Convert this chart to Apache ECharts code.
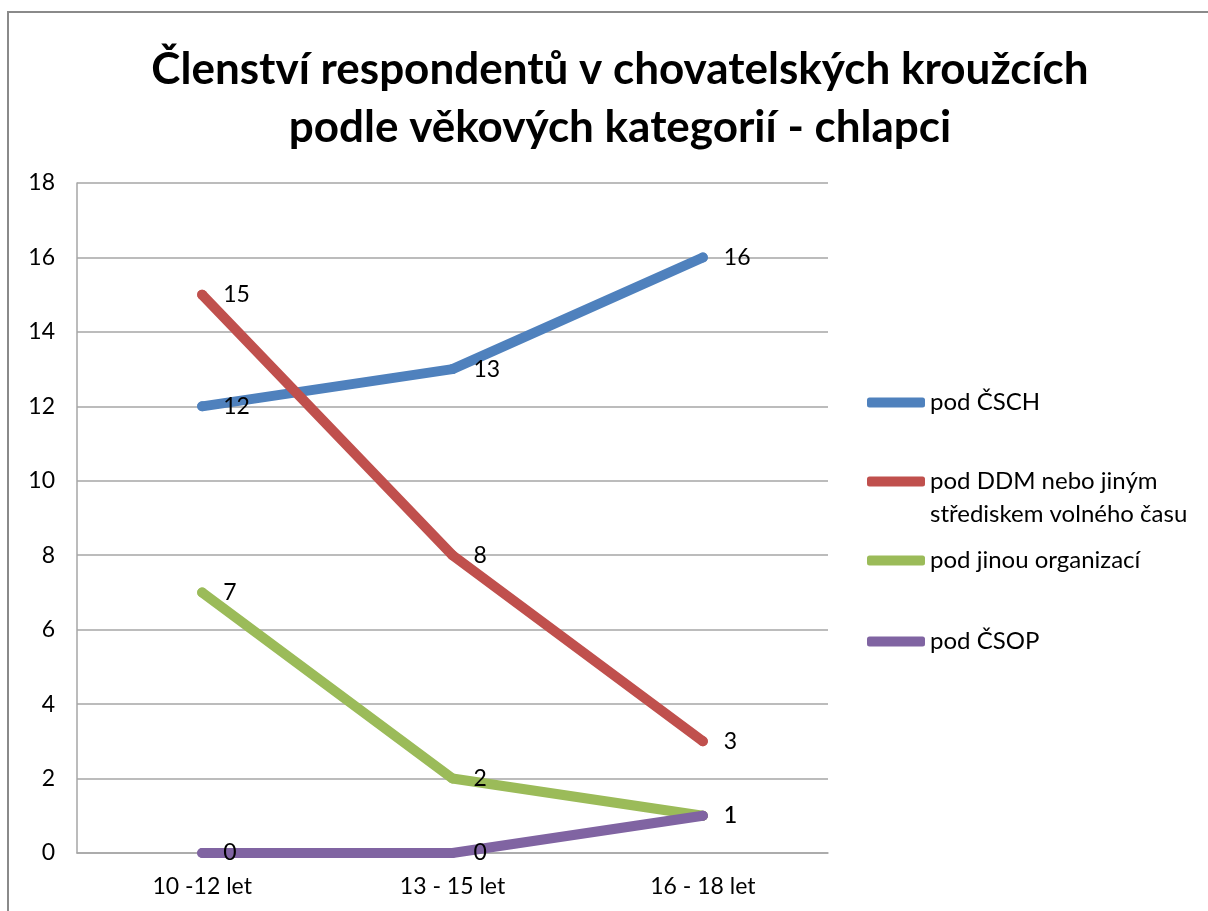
<!DOCTYPE html>
<html><head><meta charset="utf-8">
<script src="https://cdn.jsdelivr.net/npm/echarts@6/dist/echarts.min.js"></script>
<style>html,body{margin:0;padding:0;background:#fff}#c{width:1208px;height:911px}</style>
</head><body><div id="c"></div>
<script>
const categories = ['10 -12 let', '13 - 15 let', '16 - 18 let'];
const seriesNames = ['pod ČSCH', 'pod DDM nebo jiným\nstřediskem volného času', 'pod jinou organizací', 'pod ČSOP'];
const valsCSCH = [12, 13, 16];
const valsDDM = [15, 8, 3];
const valsJina = [7, 2, 1];
const valsCSOP = [0, 0, 1];
const colors = ['#4F81BD', '#C0504D', '#9BBB59', '#8064A2'];
const titleText = 'Členství respondentů v chovatelských kroužcích\npodle věkových kategorií - chlapci';

const font = 'Lato, "Open Sans", sans-serif';
const allVals = [valsCSCH, valsDDM, valsJina, valsCSOP];
const legendTops = [381, 427, 539, 620];

const chart = echarts.init(document.getElementById('c'), null, {renderer: 'canvas'});
chart.setOption({
  animation: false,
  backgroundColor: '#fff',
  title: {
    text: titleText, left: 615, top: 36, textAlign: 'center',
    textStyle: {fontFamily: font, fontWeight: 'bold', fontSize: 44, lineHeight: 58, color: '#000'}
  },
  graphic: [{
    type: 'rect', shape: {x: 8, y: 12, width: 1400, height: 1200},
    style: {fill: 'none', stroke: '#8a8a8a', lineWidth: 2}, silent: true
  }],
  legend: seriesNames.map((n, i) => ({
    data: [n], left: 862, top: legendTops[i], orient: 'vertical',
    itemWidth: 58, itemHeight: 10, itemGap: 0, icon: 'roundRect',
    formatter: i === 1 ? (name => ' \n' + name) : (name => name),
    textStyle: {fontFamily: font, fontSize: 24, color: '#000', lineHeight: 33}
  })),
  grid: {left: 77, right: 380, top: 183, bottom: 58, containLabel: false},
  xAxis: {
    type: 'category', data: categories, boundaryGap: true,
    axisLine: {show: true, lineStyle: {color: '#a6a6a6', width: 1.5}},
    axisTick: {show: false},
    axisLabel: {fontFamily: font, fontSize: 23, color: '#000', margin: 22}
  },
  yAxis: {
    type: 'value', min: 0, max: 18, interval: 2,
    axisLine: {show: true, lineStyle: {color: '#a6a6a6', width: 1.5}},
    axisTick: {show: false},
    splitLine: {lineStyle: {color: '#a6a6a6', width: 1.5}},
    axisLabel: {fontFamily: font, fontSize: 23, color: '#000', margin: 22}
  },
  series: allVals.map((v, i) => ({
    name: seriesNames[i], type: 'line', data: v,
    symbol: 'circle', symbolSize: 10, showSymbol: true,
    itemStyle: {color: colors[i]},
    lineStyle: {width: 10, color: colors[i], cap: 'round', join: 'round'},
    label: {show: true, position: 'right', distance: 16, fontFamily: font, fontSize: 23, color: '#000'},
    z: 2 + i
  }))
});
</script></body></html>
